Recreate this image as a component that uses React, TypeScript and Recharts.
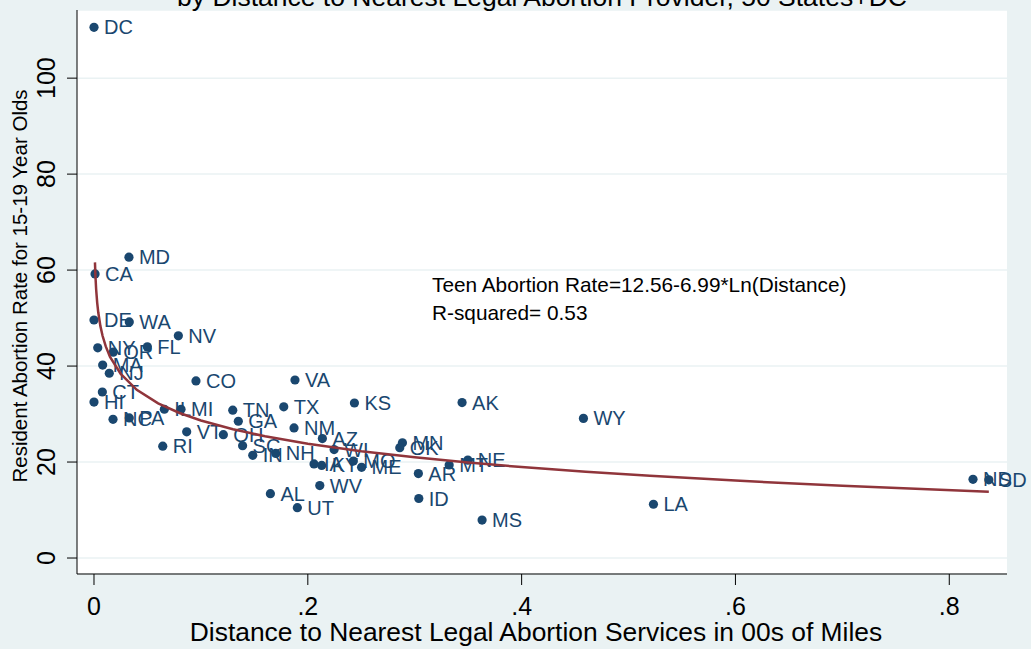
import React from 'react';
import { ScatterChart, Scatter, XAxis, YAxis, CartesianGrid } from 'recharts';

const NAVY = '#1a476f';
const MAROON = '#90353b';
const BG = '#eaf2f3';
const FONT = '"Liberation Sans", Arial, Helvetica, sans-serif';

const states = ['DC','MD','CA','DE','WA','NV','NY','OR','FL','MA','NJ','CO','CT','HI','IL','MI','NC','PA','RI','VT','OH','TN','GA','SC','IN','VA','TX','KS','NM','AZ','NH','WI','IA','KY','MO','ME','WV','AL','UT','MN','OK','AR','MT','NE','ID','MS','AK','WY','LA','ND','SD'];
const distances = [0.000,0.0327,0.001,0.000,0.033,0.0789,0.0035,0.018,0.0499,0.0081,0.0143,0.0954,0.0078,0.000,0.0658,0.0814,0.0178,0.033,0.0643,0.0867,0.121,0.1298,0.135,0.139,0.1485,0.188,0.1775,0.2436,0.1871,0.2136,0.170,0.2246,0.2058,0.213,0.2426,0.2503,0.2112,0.165,0.1902,0.2885,0.286,0.3034,0.3322,0.3497,0.3038,0.363,0.3443,0.4578,0.5233,0.8222,0.837];
const rates = [110.6,62.7,59.2,49.6,49.2,46.3,43.8,42.9,44.0,40.2,38.5,36.9,34.6,32.5,31.0,31.0,28.9,29.2,23.3,26.3,25.7,30.8,28.5,23.4,21.4,37.1,31.5,32.3,27.1,24.9,21.8,22.6,19.6,19.3,20.2,18.9,15.1,13.4,10.5,24.0,23.0,17.6,19.4,20.4,12.4,7.9,32.4,29.1,11.2,16.4,16.3];

const fitDistance = [0.0009,0.0013,0.002,0.003,0.004,0.006,0.008,0.011,0.015,0.025,0.04,0.06,0.08,0.1,0.13,0.16,0.2,0.25,0.3,0.35,0.4,0.46,0.52,0.6,0.7,0.837];
const fitRate = [61.6,59.0,56.0,53.17,51.15,48.32,46.31,44.09,41.92,38.35,35.06,32.23,30.22,28.66,26.82,25.37,23.81,22.25,20.98,19.9,18.96,17.99,17.13,16.13,15.05,13.8];

const xTicks = [0, 0.2, 0.4, 0.6, 0.8];
const yTicks = [0, 20, 40, 60, 80, 100];

const titleText = 'by Distance to Nearest Legal Abortion Provider, 50 States+DC';
const xTitle = 'Distance to Nearest Legal Abortion Services in 00s of Miles';
const yTitle = 'Resident Abortion Rate for 15-19 Year Olds';
const noteLines = ['Teen Abortion Rate=12.56-6.99*Ln(Distance)', 'R-squared= 0.53'];

const stateData = states.map((s, i) => ({ state: s, x: distances[i], y: rates[i] }));
const fitData = fitDistance.map((d, i) => ({ x: d, y: fitRate[i] }));

const StateDot = (props: any) => {
  const { cx, cy, payload } = props;
  if (cx == null || cy == null) return <g />;
  return (
    <g>
      <circle cx={cx} cy={cy} r={4.6} fill={NAVY} />
      <text x={cx + 10} y={cy} dominantBaseline="central" fontSize={20} fill={NAVY} fontFamily={FONT}>
        {payload.state}
      </text>
    </g>
  );
};

const NoShape = () => <g />;

const fmtX = (v: number) => (v === 0 ? '0' : String(v).replace('0.', '.'));

const XTick = (props: any) => {
  const { x, payload } = props;
  return (
    <text x={x} y={615} textAnchor="middle" fontSize={25} fill="#000" fontFamily={FONT}>
      {fmtX(payload.value)}
    </text>
  );
};

const YTick = (props: any) => {
  const { y, payload } = props;
  return (
    <text transform={`translate(55, ${y}) rotate(-90)`} textAnchor="middle" fontSize={25} fill="#000" fontFamily={FONT}>
      {payload.value}
    </text>
  );
};

export default function App() {
  return (
    <div style={{ position: 'absolute', left: 0, top: 0, width: 1031, height: 649, background: BG, overflow: 'hidden' }}>
      <ScatterChart width={1031} height={649} margin={{ top: 10, right: 24, bottom: 0, left: 0 }} style={{ overflow: 'visible' }}>
        <CartesianGrid vertical={false} stroke={BG} strokeWidth={1.5} fill="#ffffff" fillOpacity={1} />
        <XAxis
          type="number"
          dataKey="x"
          domain={[-0.0159, 0.854]}
          ticks={xTicks}
          height={75}
          tickSize={11}
          tick={<XTick />}
          axisLine={{ stroke: '#000', strokeWidth: 1 }}
          tickLine={{ stroke: '#000', strokeWidth: 1 }}
        />
        <YAxis
          type="number"
          dataKey="y"
          domain={[-3.33, 114.2]}
          ticks={yTicks}
          width={77}
          tickSize={10}
          tick={<YTick />}
          axisLine={{ stroke: '#000', strokeWidth: 1 }}
          tickLine={{ stroke: '#000', strokeWidth: 1 }}
        />
        <Scatter data={stateData} shape={StateDot} isAnimationActive={false} />
        <Scatter
          data={fitData}
          shape={NoShape}
          line={{ stroke: MAROON, strokeWidth: 2.5 }}
          lineType="joint"
          isAnimationActive={false}
        />
      </ScatterChart>
      <svg width={1031} height={649} style={{ position: 'absolute', left: 0, top: 0, pointerEvents: 'none' }}>
        <text x={542} y={6} textAnchor="middle" fontSize={26.5} fill="#000" fontFamily={FONT}>{titleText}</text>
        <text transform="translate(27, 286) rotate(-90)" textAnchor="middle" fontSize={20.5} fill="#000" fontFamily={FONT}>{yTitle}</text>
        <text x={536} y={641} textAnchor="middle" fontSize={26.4} fill="#000" fontFamily={FONT}>{xTitle}</text>
        <text x={432} y={292} fontSize={20.8} fill="#000" fontFamily={FONT}>{noteLines[0]}</text>
        <text x={432} y={320} fontSize={20.8} fill="#000" fontFamily={FONT}>{noteLines[1]}</text>
      </svg>
    </div>
  );
}
